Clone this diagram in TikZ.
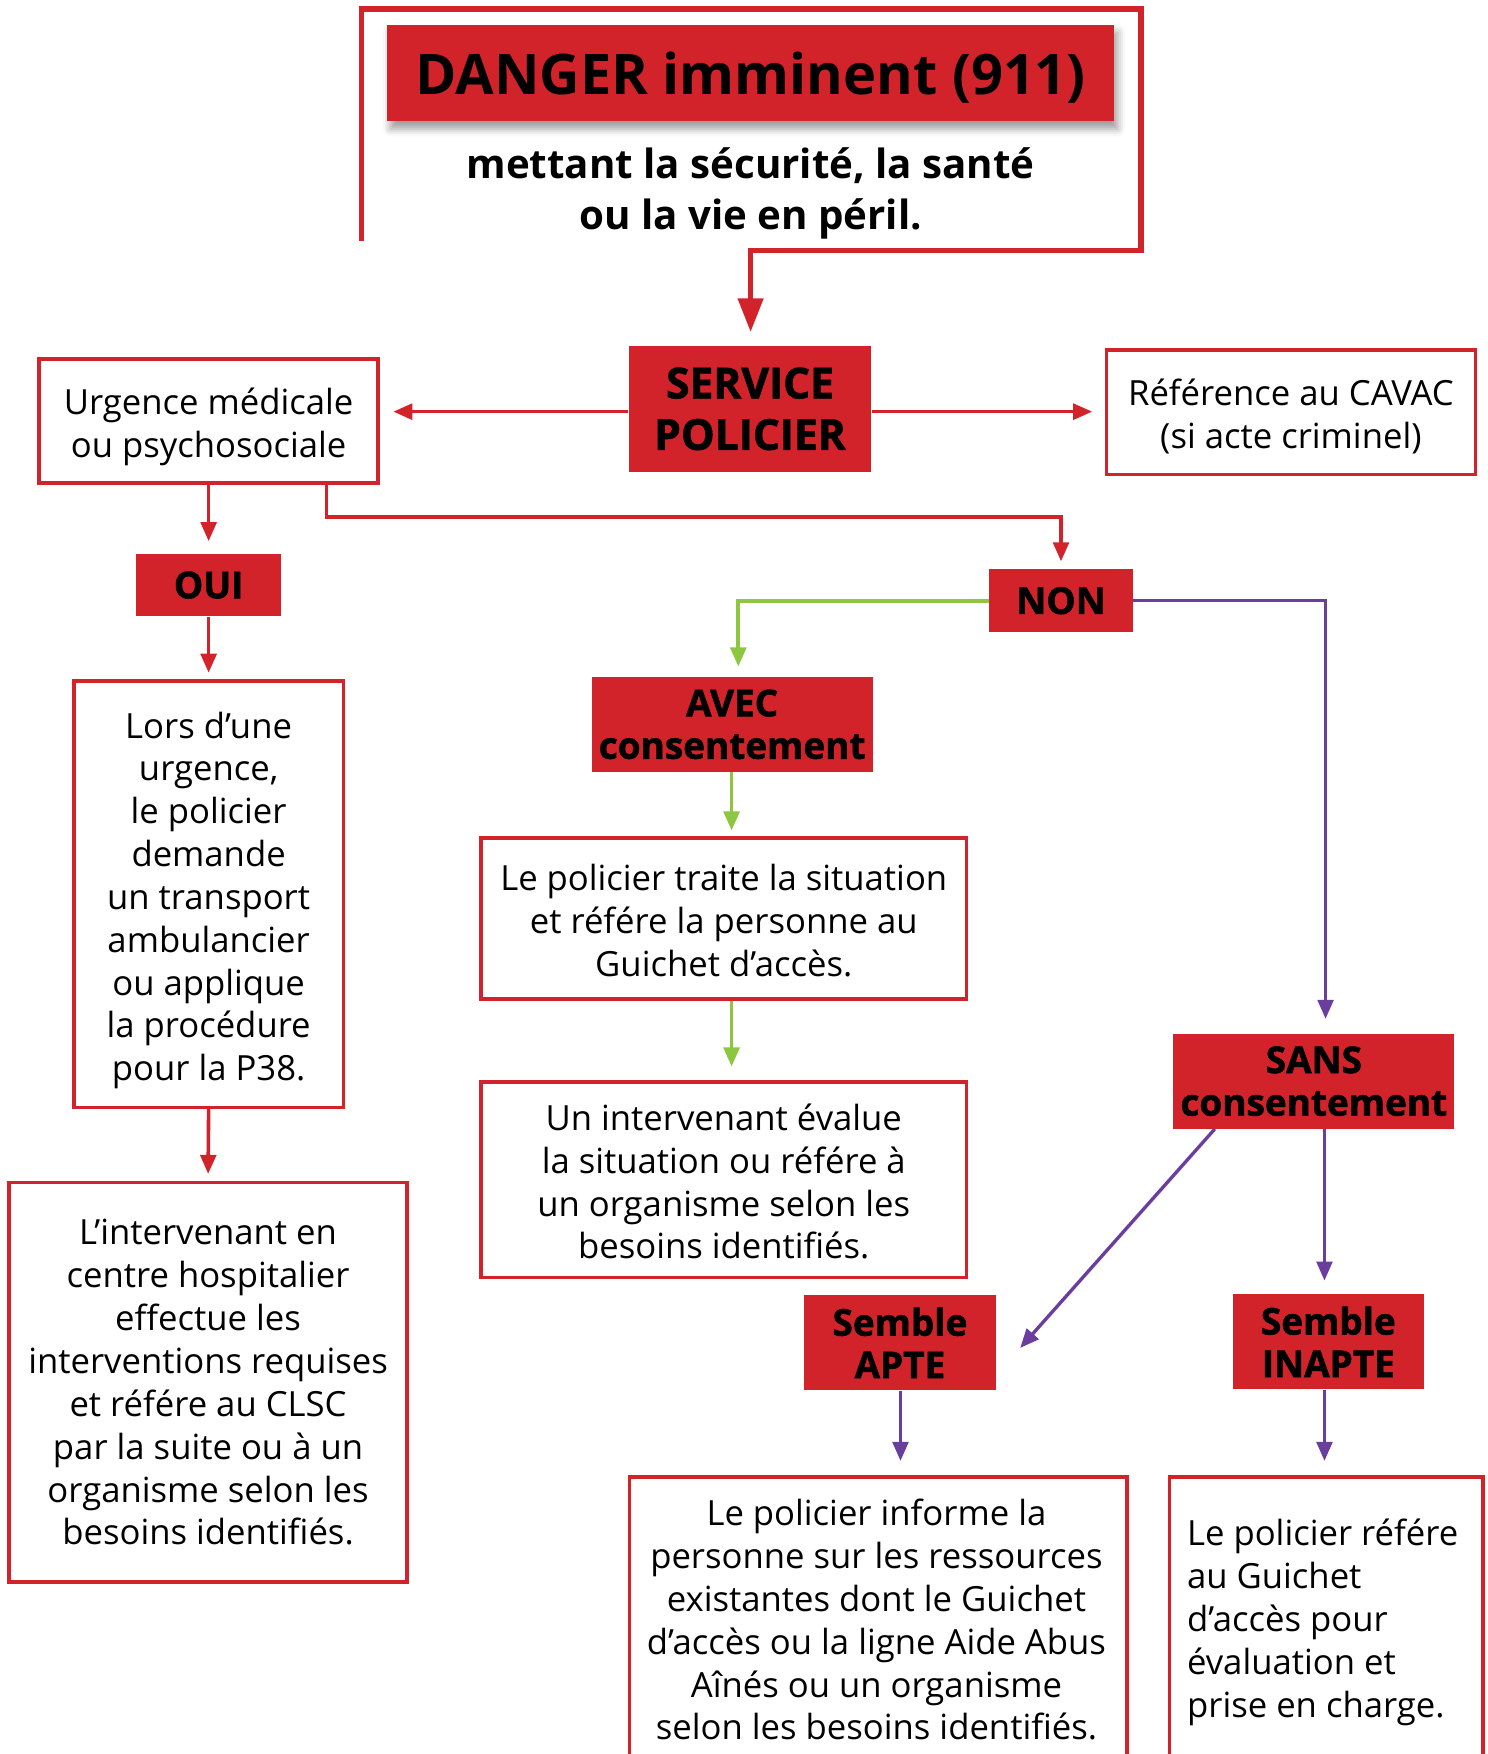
\documentclass[tikz,border=0pt]{standalone}
\usepackage{fontspec}
\setmainfont{Open Sans}
\newfontfamily\heavyfont[BoldFeatures={FakeBold=1.5}]{Open Sans}
\usetikzlibrary{arrows.meta,shadows.blur}
\definecolor{dred}{HTML}{D2232A}
\definecolor{vgreen}{HTML}{8DC63F}
\definecolor{vpurple}{HTML}{6A3E9E}
\newcommand\tstrut{\rule{0pt}{36pt}}
\newcommand\tstrutb{\rule{0pt}{32pt}}
\tikzset{
  redbox/.style={fill=dred,draw=none,inner sep=0pt,align=center,text=black,
    font=\heavyfont\bfseries\fontsize{33}{38}\selectfont},
  wbox/.style={draw=dred,line width=3.2pt,fill=white,inner sep=0pt,align=center,
    font=\fontsize{31}{38.3}\selectfont,
    execute at end node={\rule[-9pt]{0pt}{9pt}}},
  framebox/.style={draw=dred,line width=3.2pt,fill=white,inner sep=0pt},
  bodytext/.style={inner sep=0pt,font=\fontsize{31}{38.3}\selectfont},
  redarr/.style={draw=dred,line width=3.2pt,-{Triangle[length=17pt,width=14pt]}},
  grnarr/.style={draw=vgreen,line width=3.4pt,-{Triangle[length=17pt,width=14pt]}},
  purarr/.style={draw=vpurple,line width=3pt,-{Triangle[length=17pt,width=14pt]}},
}
\begin{document}
\begin{tikzpicture}[x=1pt,y=-1pt]
\useasboundingbox (0,0) rectangle (1330,1568);
\clip (0,0) rectangle (1330,1568);
% top frame
\coordinate (f1) at (323,215);
\coordinate (f2) at (323,8);
\coordinate (f3) at (1020,8);
\coordinate (f4) at (1020,224);
\coordinate (f5) at (671,224);
\node[redbox,minimum width=650pt,minimum height=86pt,text height=39pt,text depth=0pt,
  blur shadow={shadow xshift=3pt,shadow yshift=-7pt,shadow blur radius=7pt,shadow opacity=40},
  font=\bfseries\fontsize{50}{56}\selectfont] (danger) at (671,65) {DANGER imminent (911)};
\node[inner sep=0pt,align=center,font=\bfseries\fontsize{36}{46}\selectfont] (sub) at (671,173)
  {mettant la sécurité, la santé\\ou la vie en péril.};
\node[redbox,minimum width=217pt,minimum height=113pt,font=\heavyfont\bfseries\fontsize{38}{46}\selectfont] (service) at (670.5,365.5) {SERVICE\\POLICIER};
\draw[draw=dred,line width=5pt,-{Triangle[length=30pt,width=22pt]},shorten >=12pt]
  (f1) -- (f2) -- (f3) -- (f4) -- (f5) -- (service.north -| f5);
\node[wbox,minimum width=303pt,minimum height=111pt] (urg) at (186.5,376.5) {\tstrut Urgence médicale\\ou psychosociale};
\node[wbox,minimum width=330pt,minimum height=111pt] (cavac) at (1154,368.5) {\tstrut Référence au CAVAC\\(si acte criminel)};
\node[redbox,minimum width=129pt,minimum height=56pt] (oui) at (186.5,523) {OUI};
\node[redbox,minimum width=129pt,minimum height=56pt] (non) at (948.5,537) {NON};
\node[redbox,minimum width=251pt,minimum height=85pt] (avec) at (654.5,647.5) {AVEC\\consentement};
\node[redbox,minimum width=251pt,minimum height=85pt] (sans) at (1174.5,966.5) {SANS\\consentement};
\node[wbox,minimum width=241pt,minimum height=381pt] (lors) at (186.5,799.5)
  {\tstrut Lors d’une\\urgence,\\le policier\\demande\\un transport\\ambulancier\\ou applique\\la procédure\\pour la P38.};
\node[wbox,minimum width=356pt,minimum height=357pt] (linterv) at (186,1235.5)
  {\tstrutb L’intervenant en\\centre hospitalier\\effectue les\\interventions requises\\et référe au CLSC\\par la suite ou à un\\organisme selon les\\besoins identifiés.};
\node[wbox,minimum width=434pt,minimum height=144pt] (traite) at (647,821)
  {\tstrut Le policier traite la situation\\et référe la personne au\\Guichet d’accès.};
\node[wbox,minimum width=434pt,minimum height=175pt] (unint) at (647,1054.5)
  {\tstrut Un intervenant évalue\\la situation ou référe à\\un organisme selon les\\besoins identifiés.};
\node[redbox,minimum width=171pt,minimum height=85pt] (apte) at (804.5,1200.5) {Semble\\APTE};
\node[redbox,minimum width=171pt,minimum height=85pt] (inapte) at (1187.5,1199.5) {Semble\\INAPTE};
\node[framebox,minimum width=445pt,minimum height=300pt,anchor=north west] (informe) at (561,1319) {};
\node[bodytext,align=center,anchor=north] (informeT) at (783.5,1340)
  {Le policier informe la\\personne sur les ressources\\existantes dont le Guichet\\d’accès ou la ligne Aide Abus\\Aînés ou un organisme\\selon les besoins identifiés.};
\node[framebox,minimum width=280pt,minimum height=300pt,anchor=north west] (refere) at (1044,1319) {};
\node[bodytext,align=left,anchor=north west] (refereT) at (1061,1358)
  {Le policier référe\\au Guichet\\d’accès pour\\évaluation et\\prise en charge.};
% coordinates
\coordinate (hy) at (0,368);
\coordinate (b1) at (292,462);
\coordinate (gx) at (660,0);
\coordinate (px) at (1185,0);
\coordinate (ax) at (654,0);
\coordinate (dx) at (1086,0);
\coordinate (apteIn) at (912,1205);
\coordinate (ix) at (1184,0);
\coordinate (apx) at (805,0);
% connectors
\draw[redarr,shorten >=12pt] (service.west |- hy) -- (urg.east |- hy);
\draw[redarr,shorten >=11pt] (service.east |- hy) -- (cavac.west |- hy);
\draw[redarr,shorten >=11pt] (urg.south) -- (oui.north);
\draw[redarr,shorten >=7pt] (urg.south -| b1) -- (b1) -| (non.north);
\draw[grnarr,shorten >=9pt] (non.west) -| (avec.north -| gx);
\draw[purarr,shorten >=13pt] (non.east) -| (sans.north -| px);
\draw[redarr,shorten >=6pt] (oui.south) -- (lors.north);
\draw[redarr,shorten >=6pt] (lors.south) -- (linterv.north);
\draw[grnarr,shorten >=5pt] (avec.south -| ax) -- (traite.north -| ax);
\draw[grnarr,shorten >=12pt] (traite.south -| ax) -- (unint.north -| ax);
\draw[purarr] (sans.south -| dx) -- (apteIn);
\draw[purarr,shorten >=12pt] (sans.south -| ix) -- (inapte.north -| ix);
\draw[purarr,shorten >=13pt] (apte.south -| apx) -- (informe.north -| apx);
\draw[purarr,shorten >=13pt] (inapte.south -| ix) -- (refere.north -| ix);
\end{tikzpicture}
\end{document}
